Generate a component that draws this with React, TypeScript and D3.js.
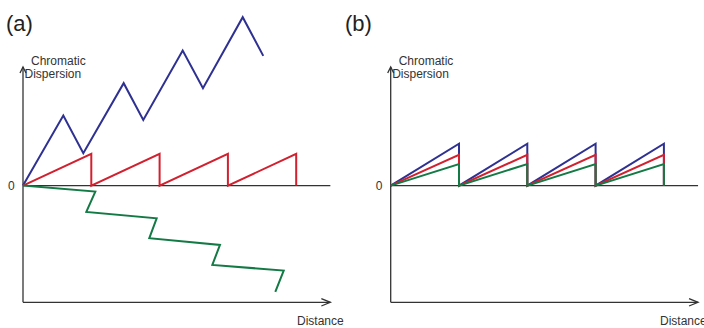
import * as d3 from "d3";

// chart units: x = one compensation period, y = dispersion of red peak
const blueA: [number, number][] = [
  [0, 0], [0.59, 2.21], [0.883, 1.02], [1.474, 3.23], [1.761, 2.07],
  [2.338, 4.26], [2.635, 3.07], [3.217, 5.31], [3.518, 4.09],
];
const redA: [number, number][] = [
  [0, 0], [1, 1], [1, 0], [2, 1], [2, 0], [3, 1], [3, 0], [4, 1], [4, 0],
];
const greenA: [number, number][] = [
  [0, 0], [1.059, -0.19], [0.927, -0.83], [1.957, -1.03], [1.849, -1.66],
  [2.884, -1.87], [2.772, -2.5], [3.817, -2.68], [3.694, -3.35],
];

const blueB: [number, number][] = [
  [0, 0], [1, 1.32], [1, 0], [2, 1.32], [2, 0], [3, 1.32], [3, 0], [4, 1.32], [4, 0],
];
const redB: [number, number][] = [
  [0, 0], [1, 0.97], [1, 0], [2, 0.97], [2, 0], [3, 0.97], [3, 0], [4, 0.97], [4, 0],
];
const greenB: [number, number][] = [
  [0, 0], [1, 0.68], [1, 0], [2, 0.68], [2, 0], [3, 0.68], [3, 0], [4, 0.68], [4, 0],
];

const panels = [
  { label: "(a)", labelX: 6, originX: 23, distX: 297, series: [blueA, redA, greenA] },
  { label: "(b)", labelX: 345, originX: 390.7, distX: 660, series: [blueB, redB, greenB] },
];

const colors = ["#2e3192", "#d2202f", "#137a45"];
const axisColor = "#333";
const font = "'Liberation Sans', Arial, sans-serif";

function Panel({ p }: { p: (typeof panels)[number] }) {
  const x = d3.scaleLinear().domain([0, 4.5]).range([p.originX, p.originX + 4.5 * 68.3]);
  const y = d3.scaleLinear().domain([-3.68, 3.74]).range([302.3, 67]);

  const line = d3
    .line<[number, number]>()
    .x((d) => x(d[0]))
    .y((d) => y(d[1]));

  const x0 = x(0);
  const xEnd = x(4.5);
  const yTop = y(3.74);
  const yBot = y(-3.68);
  const yZero = y(0);

  return (
    <g>
      <text x={p.labelX} y={31} fontSize={22} fontFamily={font} fill="#222">
        {p.label}
      </text>

      {/* axes */}
      <g stroke={axisColor} strokeWidth={1.3} fill="none">
        <line x1={x0} y1={yTop} x2={x0} y2={yBot} />
        <line x1={x0} y1={yBot} x2={xEnd} y2={yBot} />
        <line x1={x0} y1={yZero} x2={xEnd} y2={yZero} />
        <path d={`M${x0 - 3},${yTop + 6} L${x0},${yTop} L${x0 + 3},${yTop + 6}`} />
        <path d={`M${xEnd - 9},${yBot - 3.7} L${xEnd},${yBot} L${xEnd - 9},${yBot + 3.7}`} />
      </g>

      <g fontFamily={font} fontSize={12} fill={axisColor}>
        <text x={x0 + 8} y={64.5}>Chromatic</text>
        <text x={x0 + 1.5} y={78}>Dispersion</text>
        <text x={x0 - 15} y={189.5}>0</text>
        <text x={p.distX} y={325}>Distance</text>
      </g>

      {p.series.map((s, i) => (
        <path
          key={i}
          d={line(s) ?? ""}
          fill="none"
          stroke={colors[i]}
          strokeWidth={2}
          strokeLinejoin="miter"
        />
      ))}
    </g>
  );
}

export default function App() {
  return (
    <svg
      width={704}
      height={328}
      style={{ position: "absolute", left: 0, top: 0, background: "#fff" }}
    >
      {panels.map((p) => (
        <Panel key={p.label} p={p} />
      ))}
    </svg>
  );
}
